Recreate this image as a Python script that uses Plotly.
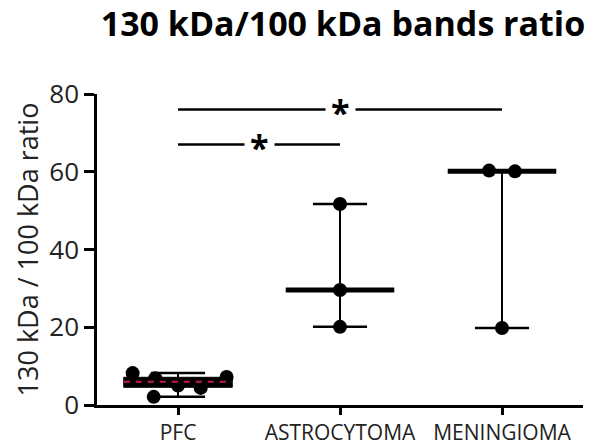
import numpy as np
import plotly.graph_objects as go

# ---- data ----
categories = ["PFC", "ASTROCYTOMA", "MENINGIOMA"]
pfc_values = [8.2, 6.9, 2.1, 5.0, 4.4, 7.2]
astro_values = [51.7, 29.6, 20.1]
men_values = [60.3, 60.1, 19.8]
pfc_jitter = [-0.28, -0.14, -0.15, 0.0, 0.14, 0.30]
astro_jitter = [0.0, 0.0, 0.0]
men_jitter = [-0.08, 0.08, 0.0]
y_ticks = [0, 20, 40, 60, 80]
sig_pairs = [(0, 2, 76.0), (0, 1, 67.0)]
sig_labels = ["*", "*"]

groups = [pfc_values, astro_values, men_values]
jitters = [pfc_jitter, astro_jitter, men_jitter]

FONT = "Open Sans"
fig = go.Figure()

MED_HALF = 0.335
CAP_HALF = 0.167

for i, (vals, jit) in enumerate(zip(groups, jitters)):
    vals = np.array(vals)
    med = float(np.median(vals))
    lo, hi = float(vals.min()), float(vals.max())
    # whisker (range)
    fig.add_trace(go.Scatter(x=[i, i], y=[lo, hi], mode="lines",
                             line=dict(color="black", width=2), hoverinfo="skip"))
    for c in (lo, hi):
        fig.add_trace(go.Scatter(x=[i - CAP_HALF, i + CAP_HALF], y=[c, c], mode="lines",
                                 line=dict(color="black", width=2.5), hoverinfo="skip"))
    if i == 0:
        q1, q3 = np.percentile(vals, [25, 75])
        fig.add_trace(go.Scatter(x=[i - MED_HALF, i + MED_HALF, i + MED_HALF, i - MED_HALF, i - MED_HALF],
                                 y=[q1, q1, q3, q3, q1], mode="lines", fill="toself",
                                 fillcolor="black", line=dict(color="black", width=1),
                                 hoverinfo="skip"))
    else:
        fig.add_trace(go.Scatter(x=[i - MED_HALF, i + MED_HALF], y=[med, med], mode="lines",
                                 line=dict(color="black", width=5), hoverinfo="skip"))
    # points
    fig.add_trace(go.Scatter(x=[i + j for j in jit], y=vals, mode="markers",
                             marker=dict(color="black", size=14), hoverinfo="skip"))
    if i == 0:
        fig.add_trace(go.Scatter(x=[i - MED_HALF, i + MED_HALF], y=[med, med], mode="lines",
                                 line=dict(color="#c2185b", width=2, dash="6px,6px"), hoverinfo="skip"))

# significance bars
for (a, b, yv), lab in zip(sig_pairs, sig_labels):
    fig.add_trace(go.Scatter(x=[a, b], y=[yv, yv], mode="lines",
                             line=dict(color="black", width=2.5), hoverinfo="skip"))
    fig.add_annotation(x=(a + b) / 2, y=yv, text="<b>" + lab + "</b>", showarrow=False,
                       font=dict(family=FONT, size=34, color="black"),
                       bgcolor="white", borderpad=5, yshift=-2, xanchor="center", yanchor="middle")

fig.update_layout(
    width=606, height=445,
    margin=dict(l=97, r=23, t=94, b=40),
    plot_bgcolor="white", paper_bgcolor="white",
    showlegend=False,
    title=dict(text="<b>130 kDa/100 kDa bands ratio</b>", x=0.566, xanchor="center",
               y=0.945, yanchor="middle", font=dict(family=FONT, size=34, color="black")),
    font=dict(family=FONT, color="black"),
)
fig.update_xaxes(range=[-0.5, 2.5], tickvals=[0, 1, 2], ticktext=categories,
                 showline=True, linecolor="black", linewidth=2.5, ticks="outside",
                 ticklen=7, tickwidth=2.5, tickcolor="black", showgrid=False, zeroline=False,
                 automargin=False, ticklabelstandoff=0,
                 tickfont=dict(family=FONT, size=21, color="#222"))
fig.update_yaxes(range=[0, 80], tickvals=y_ticks, showline=True, linecolor="black",
                 linewidth=2.5, ticks="outside", ticklen=10, tickwidth=2.5, tickcolor="black",
                 showgrid=False, zeroline=False, automargin=False,
                 tickfont=dict(family=FONT, size=26, color="#222"),
                 title=dict(text="130 kDa / 100 kDa ratio", standoff=3,
                            font=dict(family=FONT, size=27, color="#222")))

fig.write_html("out.html", config={"displayModeBar": False},
               post_script="document.body.style.margin='0';")
